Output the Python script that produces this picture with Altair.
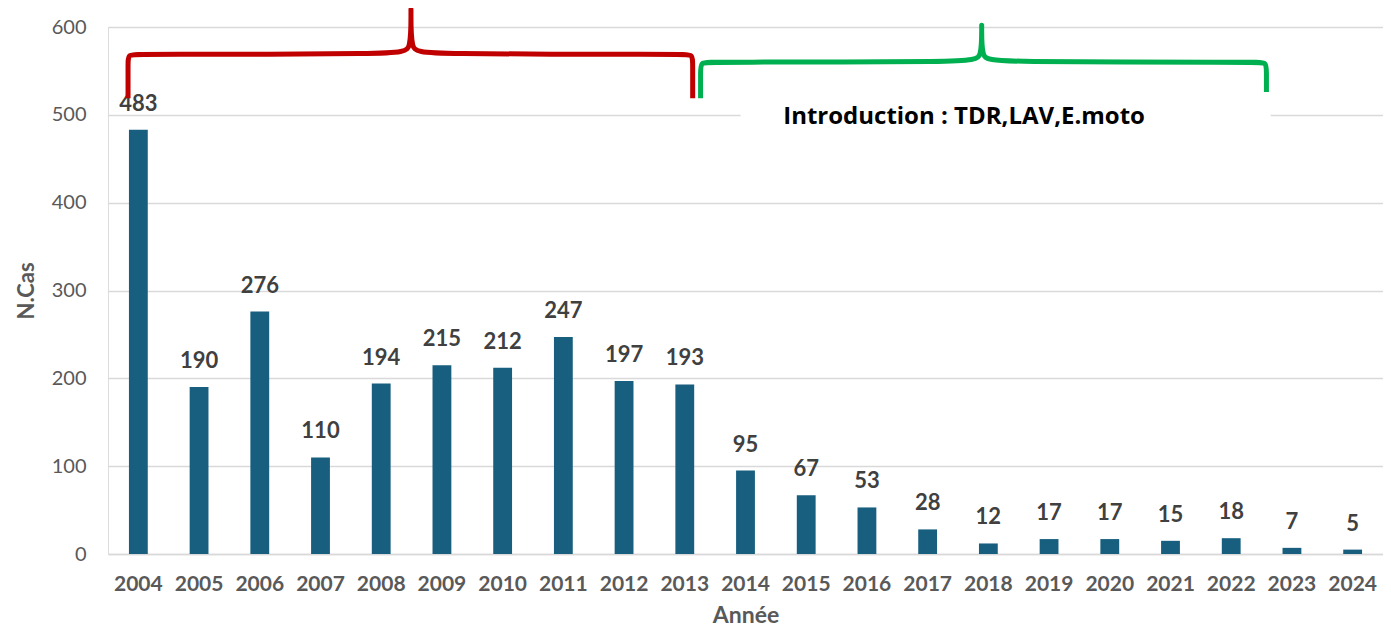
import altair as alt
import pandas as pd

# ---- data ----
years = [str(y) for y in range(2004, 2025)]
cases = [483, 190, 276, 110, 194, 215, 212, 247, 197, 193, 95, 67, 53, 28, 12, 17, 17, 15, 18, 7, 5]

# brace annotations (x in category-index units, y in case units)
brace_names = ["rouge", "vert"]
brace_x_start = [-0.17, 9.26]
brace_x_end = [9.13, 18.58]
brace_x_tip = [4.49, 13.89]
brace_y_start = [519, 519]
brace_y_end = [519, 526]
brace_y_bar = [569, 560]
brace_y_tip = [620, 602]
brace_colors = ["#C00000", "#00B050"]

# annotation box and text
box_x = [9.92, 18.65]
box_y = [460, 526]
note_text = "Introduction : TDR,LAV,E.moto"
note_x = 13.6
note_y = 497

FONT = "Lato"
AXIS_GRAY = "#595959"

df = pd.DataFrame({"annee": years, "cas": cases})


def brace_points(name, x0, x1, xm, yb0, yb1, yh, yt, ex=0.16, ey=11.0):
    pts = []
    pts += [(x0, yb0)] * 3
    pts += [(x0, yh - ey), (x0, yh), (x0 + ex, yh)]
    pts += [(xm - ex, yh), (xm, yh + ey * 0.4)]
    pts += [(xm, yt)] * 3
    pts += [(xm, yh + ey * 0.4), (xm + ex, yh)]
    pts += [(x1 - ex, yh), (x1, yh), (x1, yh - ey)]
    pts += [(x1, yb1)] * 3
    return [{"brace": name, "ordre": i, "bx": p[0], "by": p[1]} for i, p in enumerate(pts)]


rows = []
for i, n in enumerate(brace_names):
    rows += brace_points(n, brace_x_start[i], brace_x_end[i], brace_x_tip[i],
                         brace_y_start[i], brace_y_end[i], brace_y_bar[i], brace_y_tip[i])
braces = pd.DataFrame(rows)

ydom = alt.Scale(domain=[0, 600], nice=False)
xq = alt.Scale(domain=[-0.5, len(years) - 0.5], nice=False, zero=False)

base = alt.Chart(df)
bars = base.mark_bar(color="#175E7F").encode(
    x=alt.X("annee:N", sort=years,
            scale=alt.Scale(paddingInner=0.69, paddingOuter=0.345),
            axis=alt.Axis(labelAngle=0, ticks=False, labelPadding=19,
                          labelFont=FONT, labelFontSize=21, labelFontWeight="bold",
                          labelColor=AXIS_GRAY, title="Année", titleFont=FONT,
                          titleFontSize=23, titleFontWeight="bold", titleColor=AXIS_GRAY,
                          titlePadding=10, domainColor="#d9d9d9", domainWidth=1.5)),
    y=alt.Y("cas:Q", scale=ydom,
            axis=alt.Axis(values=[0, 100, 200, 300, 400, 500, 600], ticks=False,
                          domain=False, labelPadding=22, labelFont=FONT,
                          labelFontSize=20, labelColor=AXIS_GRAY, gridColor="#d9d9d9",
                          gridWidth=1.5, title="N.Cas", titleFont=FONT, titleFontSize=22,
                          titleFontWeight="bold", titleColor=AXIS_GRAY, titlePadding=13)),
)
labels = base.mark_text(font=FONT, fontSize=22, fontWeight="bold", color="#404040",
                        baseline="alphabetic", dy=-19).encode(
    x=alt.X("annee:N", sort=years),
    y=alt.Y("cas:Q", scale=ydom),
    text="cas:Q",
)

brace_layer = alt.Chart(braces).mark_line(interpolate="basis", strokeWidth=5,
                                          strokeCap="butt", strokeJoin="round").encode(
    x=alt.X("bx:Q", scale=xq, axis=None),
    y=alt.Y("by:Q", scale=ydom, axis=None),
    order="ordre:Q",
    color=alt.Color("brace:N", scale=alt.Scale(domain=brace_names, range=brace_colors),
                    legend=None),
)

box_df = pd.DataFrame({"x1": [box_x[0]], "x2": [box_x[1]], "y1": [box_y[0]], "y2": [box_y[1]]})
box = alt.Chart(box_df).mark_rect(color="white").encode(
    x=alt.X("x1:Q", scale=xq, axis=None), x2="x2:Q",
    y=alt.Y("y1:Q", scale=ydom, axis=None), y2="y2:Q",
)

note_df = pd.DataFrame({"tx": [note_x], "ty": [note_y], "t": [note_text]})
note = alt.Chart(note_df).mark_text(font="Open Sans", fontSize=24, fontWeight="bold",
                                    color="black", baseline="middle", align="center").encode(
    x=alt.X("tx:Q", scale=xq, axis=None),
    y=alt.Y("ty:Q", scale=ydom, axis=None),
    text="t:N",
)

main = alt.layer(bars, labels)
overlay = alt.layer(brace_layer, box, note)

chart = alt.layer(main, overlay).resolve_scale(x="independent", y="independent").properties(
    width=1275, height=527,
    padding={"left": 100, "top": 19, "right": 0, "bottom": 75},
    autosize=alt.AutoSizeParams(type="none"),
).configure_view(stroke=None).configure(background="white")

chart.save("out.html", embed_options={"renderer": "svg", "actions": False})
